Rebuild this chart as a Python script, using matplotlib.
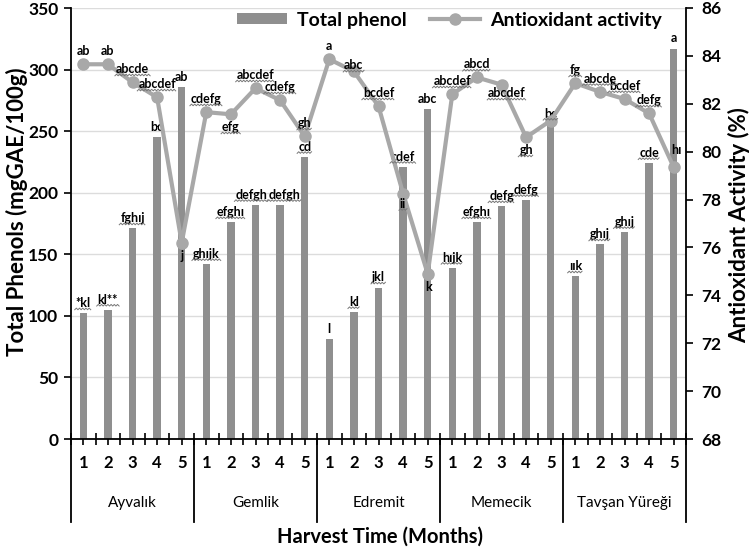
import numpy as np
import matplotlib
matplotlib.use("Agg")
import matplotlib.pyplot as plt
from matplotlib.lines import Line2D
from matplotlib.patches import Patch
from matplotlib.transforms import blended_transform_factory

# ---------------- data ----------------
cultivars = ["Ayvalık", "Gemlik", "Edremit", "Memecik", "Tavşan Yüreği"]
months = ["1", "2", "3", "4", "5"]

total_phenol = [102, 105, 171, 245, 286,
                142, 176, 190, 190, 229,
                81, 103, 123, 221, 268,
                139, 176, 189, 194, 256,
                132, 158, 168, 224, 317]

antioxidant = [83.65, 83.65, 82.9, 82.27, 76.2,
               81.65, 81.56, 82.65, 82.15, 80.64,
               83.86, 83.35, 81.9, 78.25, 74.9,
               82.4, 83.1, 82.8, 80.6, 81.3,
               82.86, 82.5, 82.2, 81.6, 79.35]

phenol_letters = ["*kl", "kl**", "fghıj", "bc", "ab",
                  "ghıjk", "efghı", "defgh", "defgh", "cd",
                  "l", "kl", "jkl", "cdef", "abc",
                  "hıjk", "efghı", "defg", "defg", "bc",
                  "ıık", "ghıj", "ghıj", "cde", "a"]

activity_letters = ["ab", "ab", "abcde", "abcdef", "j",
                    "cdefg", "efg", "abcdef", "cdefg", "gh",
                    "a", "abc", "bcdef", "ii", "k",
                    "abcdef", "abcd", "abcdef", "gh", "",
                    "fg", "abcde", "bcdef", "defg", "hı"]

# ---------------- style ----------------
FONT = "Lato"
plt.rcParams["font.family"] = [FONT, "DejaVu Sans"]
BAR_C = "#8f8f8f"
LINE_C = "#a8a8a8"
SQ_C = "#777777"

phenol_wavy = [True, True, True, False, False,
               True, True, True, True, True,
               False, True, True, True, False,
               True, True, True, True, True,
               True, True, True, True, False]
activity_wavy = [False, False, True, True, False,
                 True, True, True, True, True,
                 False, True, True, True, False,
                 True, True, True, True, False,
                 True, True, True, True, False]
# label placement (dx, dy, va) in points
bar_place = {7: (-3, 3, "bottom"), 8: (3, 3, "bottom")}
act_place = {4: (0, -5, "top"), 6: (0, -5, "top"), 13: (0, -3, "top"),
             14: (1, -5, "top"), 17: (4, -2, "top"), 18: (0, -5, "top"),
             24: (2, 8, "bottom"), 11: (0, 0, "bottom")}

fig = plt.figure(figsize=(7.5, 5.51), dpi=100)
L, R, T, B = 71, 686, 8, 439
ax = fig.add_axes([L / 750, 1 - B / 551, (R - L) / 750, (B - T) / 551])
ax2 = ax.twinx()

n = len(total_phenol)
x = np.arange(n)

ax.bar(x, total_phenol, width=0.3, color=BAR_C, zorder=2)
ax.set_xlim(-0.5, n - 0.5)
ax.set_ylim(0, 350)
ax.set_yticks(np.arange(0, 351, 50))
ax.yaxis.grid(True, color="#dcdcdc", lw=1)
ax.set_axisbelow(True)

ax2.plot(x, antioxidant, color=LINE_C, lw=3, marker="o", ms=8,
         mfc=LINE_C, mec=LINE_C, zorder=3)
ax2.set_ylim(68, 86)
ax2.set_yticks(np.arange(68, 87, 2))

for a in (ax, ax2):
    a.spines["top"].set_visible(False)
    for s in ("left", "right", "bottom"):
        a.spines[s].set_linewidth(1.3)
        a.spines[s].set_color("black")
ax.spines["right"].set_visible(False)
ax2.spines["left"].set_visible(False)
ax2.spines["bottom"].set_visible(False)

ax.tick_params(axis="y", direction="out", length=5, width=1.2,
               labelsize=12.5, pad=4)
ax2.tick_params(axis="y", direction="out", length=5, width=1.2,
                labelsize=12.5, pad=6)
for lab in ax.get_yticklabels() + ax2.get_yticklabels():
    lab.set_fontweight("bold")

ax.set_xticks(np.arange(-0.5, n, 0.5))
ax.set_xticklabels([])
ax.tick_params(axis="x", direction="inout", length=9, width=1.2)

# month numbers, group names, separators
tb = blended_transform_factory(ax.transData, ax.transAxes)
hpx = B - T
for i in range(n):
    ax.text(i, -(463 - B) / hpx, months[i % 5], transform=tb, ha="center",
            va="center", fontsize=12, fontweight="bold")
for g, name in enumerate(cultivars):
    ax.text(g * 5 + 2, -(503 - B) / hpx, name, transform=tb, ha="center",
            va="center", fontsize=11)
for g in range(len(cultivars) + 1):
    ax.plot([g * 5 - 0.5, g * 5 - 0.5], [0, -(522 - B) / hpx], transform=tb,
            color="black", lw=1.3, clip_on=False)

fig.text(380 / 750, 1 - 537 / 551, "Harvest Time (Months)", ha="center",
         va="center", fontsize=14.5, fontweight="bold")
fig.text(17 / 750, 1 - 212 / 551, "Total Phenols (mgGAE/100g)", rotation=90,
         ha="center", va="center", fontsize=16, fontweight="bold")
fig.text(739 / 750, 1 - 225 / 551, "Antioxidant Activity (%)", rotation=90,
         ha="center", va="center", fontsize=16, fontweight="bold")

# letters
texts = []
for i in range(n):
    dx, dy, va = bar_place.get(i, (0, 3, "bottom"))
    t = ax.annotate(phenol_letters[i], (x[i], total_phenol[i]), xytext=(dx, dy),
                    textcoords="offset points", ha="center", va=va,
                    fontsize=9, fontweight="bold", zorder=5)
    texts.append((t, phenol_wavy[i]))
for i in range(n):
    if not activity_letters[i]:
        continue
    dx, dy, va = act_place.get(i, (0, 5, "bottom"))
    t = ax2.annotate(activity_letters[i], (x[i], antioxidant[i]),
                     xytext=(dx, dy), textcoords="offset points", ha="center",
                     va=va, fontsize=9, fontweight="bold", zorder=5)
    texts.append((t, activity_wavy[i]))

# legend
handles = [Patch(facecolor=BAR_C, edgecolor="none"),
           Line2D([], [], color=LINE_C, lw=3, marker="o", ms=8)]
leg = ax.legend(handles, ["Total phenol", "Antioxidant activity"], ncol=2,
                loc="center", bbox_to_anchor=(0.615, 0.972), frameon=False,
                prop={"size": 14, "weight": "bold"}, handlelength=2.6,
                handleheight=0.5, columnspacing=1.2, handletextpad=0.5)

# spell-check style wavy underlines
fig.canvas.draw()
rend = fig.canvas.get_renderer()
inv = fig.transFigure.inverted()
for t, wavy in texts:
    if not wavy:
        continue
    bb = t.get_window_extent(rend)
    xs = np.arange(bb.x0 - 1, bb.x1 + 1.1, 1.6)
    ys = bb.y0 - 0.5 + np.where(np.arange(len(xs)) % 2 == 0, 0.0, 1.6)
    pts = inv.transform(np.column_stack([xs, ys]))
    fig.add_artist(Line2D(pts[:, 0], pts[:, 1], color=SQ_C, lw=0.7,
                          transform=fig.transFigure, zorder=6))

fig.savefig("out.png", dpi=100)
